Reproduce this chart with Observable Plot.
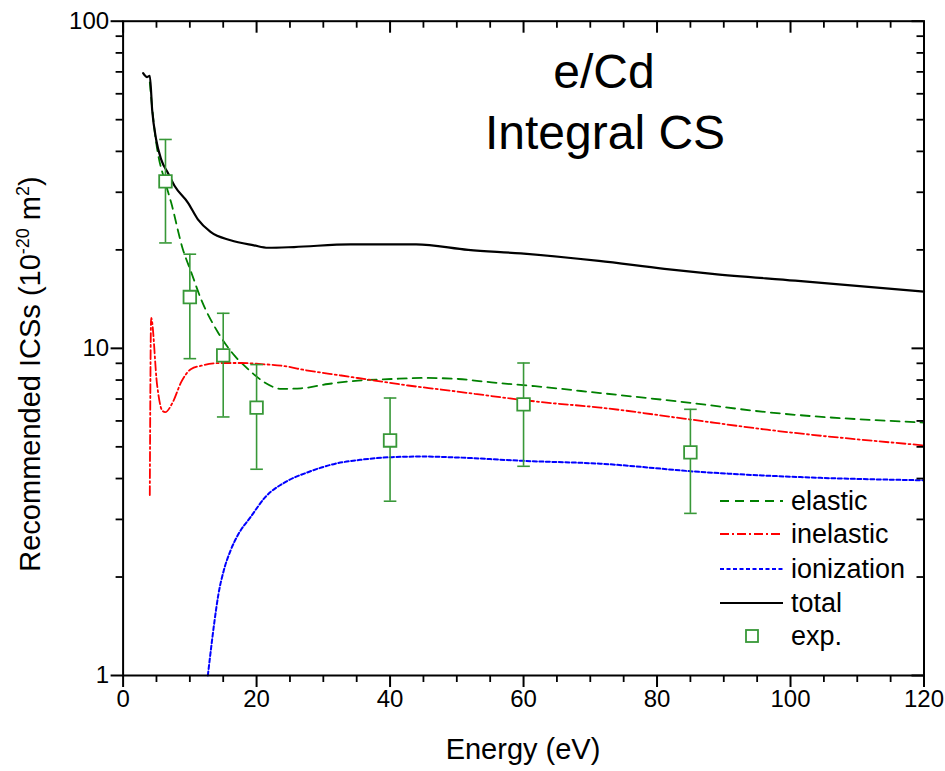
<!DOCTYPE html>
<html><head><meta charset="utf-8">
<script src="https://cdn.jsdelivr.net/npm/d3@7"></script>
<script src="https://cdn.jsdelivr.net/npm/@observablehq/plot@0.6"></script>
<style>html,body{margin:0;padding:0;background:#fff;} #chart svg{display:block;overflow:visible}</style>
</head><body><div id="chart"></div>
<script>
// ---- data ----
const elasticE = [4.0, 4.7, 5.2, 6.2, 7.2, 8.95, 10.2, 11.7, 14.2, 16.7, 18.7, 21.2, 23.7, 26.7, 30.7, 35.2, 40.2, 45.2, 50.2, 55.2, 61.7, 71.5, 84, 96.5, 120];
const elasticV = [65, 46.6, 39.6, 32.8, 27.9, 20.1, 17.1, 14.1, 11.2, 9.5, 8.65, 7.87, 7.52, 7.55, 7.78, 7.97, 8.06, 8.12, 8.06, 7.87, 7.66, 7.3, 6.85, 6.38, 5.93];

const inelasticE = [4.0, 4.2, 5.1, 5.85, 6.3, 7.45, 8.7, 10.2, 11.7, 14.7, 17.7, 20.7, 23.7, 27.7, 32.7, 37.7, 42.7, 47.7, 52.7, 57.7, 62.7, 71.5, 84, 96.5, 120];
const inelasticV = [3.56, 12.4, 7.71, 6.46, 6.38, 6.85, 7.88, 8.65, 8.85, 9.02, 9.02, 8.95, 8.85, 8.55, 8.26, 7.97, 7.7, 7.48, 7.26, 7.04, 6.85, 6.59, 6.1, 5.64, 5.05];

const ionizationE = [12.7, 13.2, 13.7, 14.3, 15.1, 16.1, 17.3, 19.1, 21.3, 24.3, 27.8, 31.8, 35.8, 40.3, 45, 50, 60, 71.5, 86.5, 101.5, 120];
const ionizationV = [1.0, 1.22, 1.47, 1.78, 2.1, 2.41, 2.71, 3.05, 3.51, 3.9, 4.19, 4.44, 4.57, 4.65, 4.67, 4.64, 4.53, 4.44, 4.19, 4.04, 3.95];

const totalE = [3.0, 3.6, 4.0, 4.36, 4.95, 5.7, 6.7, 7.7, 9.7, 11.2, 13.1, 16.1, 19.6, 21.7, 25.6, 34.1, 43.9, 51.7, 59.6, 71.3, 81.1, 88.3, 100.7, 120];
const totalV = [69.4, 67.5, 68.1, 53.4, 43.5, 37.8, 34.4, 31.4, 27.9, 24.8, 22.7, 21.4, 20.65, 20.3, 20.4, 20.8, 20.8, 20.0, 19.5, 18.5, 17.5, 16.9, 16.1, 14.9];

const expE  = [6.35, 10.0, 15.0, 20.0, 40.0, 60.0, 85.0];
const expV  = [32.4, 14.35, 9.52, 6.59, 5.23, 6.74, 4.81];
const expLo = [21.0, 9.3, 6.17, 4.27, 3.41, 4.36, 3.13];
const expHi = [43.5, 19.4, 12.8, 8.92, 7.05, 9.02, 6.51];

const xMajor = [0, 20, 40, 60, 80, 100, 120];
const xMinor = [5, 10, 15, 25, 30, 35, 45, 50, 55, 65, 70, 75, 85, 90, 95, 105, 110, 115];
const yMajor = [1, 10, 100];
const yMinor = [2, 3, 4, 5, 6, 7, 8, 9, 20, 30, 40, 50, 60, 70, 80, 90];

const legendLabels = ["elastic", "inelastic", "ionization", "total", "exp."];

// ---- tables ----
const toRows = (E, V) => E.map((e, i) => ({E: e, v: V[i]}));
const elastic = toRows(elasticE, elasticV);
const inelastic = toRows(inelasticE, inelasticV);
const ionization = toRows(ionizationE, ionizationV);
const total = toRows(totalE, totalV);
const exp = expE.map((e, i) => ({E: e, v: expV[i], lo: expLo[i], hi: expHi[i]}));

const GREEN = "#008000", RED = "#ff0000", BLUE = "#0000ff", EXPC = "#389838";
const TICKC = "black";
const styles = {
  elastic:   {stroke: GREEN, dash: "9,6", w: 1.8},
  inelastic: {stroke: RED, dash: "9,3,2,3", w: 1.8},
  ionization:{stroke: BLUE, dash: "4,2.5", w: 2},
  total:     {stroke: "black", dash: null, w: 2.2}
};

const capSymbol = {draw(ctx, size) { const r = Math.sqrt(size / Math.PI); ctx.moveTo(-r, 0); ctx.lineTo(r, 0); }};
const FONT = "'Liberation Sans', Arial, Helvetica, sans-serif";

const W = 945, H = 771, ML = 122.6, MR = 21.5, MT = 20.7, MB = 96;
const PW = W - ML - MR, PH = H - MT - MB;
const MAJ = 12, MIN = 7;

const plot = Plot.plot({
  width: W, height: H,
  marginLeft: ML, marginRight: MR, marginTop: MT, marginBottom: MB,
  x: {domain: [0, 120]},
  y: {type: "log", domain: [1, 100]},
  style: {fontFamily: FONT},
  marks: [
    Plot.line(elastic, {x: "E", y: "v", stroke: styles.elastic.stroke, strokeDasharray: styles.elastic.dash, strokeWidth: styles.elastic.w, curve: "monotone-x"}),
    Plot.line(inelastic, {x: "E", y: "v", stroke: styles.inelastic.stroke, strokeDasharray: styles.inelastic.dash, strokeWidth: styles.inelastic.w, curve: "monotone-x"}),
    Plot.line(ionization, {x: "E", y: "v", stroke: styles.ionization.stroke, strokeDasharray: styles.ionization.dash, strokeWidth: styles.ionization.w, curve: "monotone-x"}),
    Plot.line(total, {x: "E", y: "v", stroke: styles.total.stroke, strokeWidth: styles.total.w, curve: "monotone-x"}),
    Plot.ruleX(exp, {x: "E", y1: "lo", y2: "hi", stroke: EXPC, strokeWidth: 1.6}),
    Plot.dot(exp, {x: "E", y: "hi", symbol: capSymbol, r: 6.3, stroke: EXPC, strokeWidth: 1.6}),
    Plot.dot(exp, {x: "E", y: "lo", symbol: capSymbol, r: 6.3, stroke: EXPC, strokeWidth: 1.6}),
    Plot.dot(exp, {x: "E", y: "v", symbol: "square", r: 7.1, fill: "white", stroke: EXPC, strokeWidth: 1.8}),
    Plot.frame({stroke: "black", strokeWidth: 2}),
    Plot.axisX({anchor: "bottom", ticks: xMajor, tickSize: MAJ, tickPadding: 2, fontSize: 24, stroke: TICKC, strokeWidth: 2, label: null}),
    Plot.axisX({anchor: "bottom", ticks: xMinor, tickSize: MIN, tickFormat: () => "", stroke: TICKC, strokeWidth: 1.8, label: null}),
    Plot.axisY({anchor: "left", ticks: yMajor, tickSize: MAJ, tickPadding: 2, fontSize: 24, stroke: TICKC, strokeWidth: 2, tickFormat: d => String(d), label: null}),
    Plot.axisY({anchor: "left", ticks: yMinor, tickSize: MIN, tickFormat: () => "", stroke: TICKC, strokeWidth: 1.8, label: null}),
    Plot.tickX(xMajor, {x: d => d, insetBottom: PH - MAJ, stroke: TICKC, strokeWidth: 2}),
    Plot.tickX(xMinor, {x: d => d, insetBottom: PH - MIN, stroke: TICKC, strokeWidth: 1.8}),
    Plot.tickY(yMajor, {y: d => d, insetLeft: PW - MAJ, stroke: TICKC, strokeWidth: 2}),
    Plot.tickY(yMinor, {y: d => d, insetLeft: PW - MIN, stroke: TICKC, strokeWidth: 1.8})
  ]
});
document.getElementById("chart").appendChild(plot);

// ---- titles, axis labels and legend ----
const svg = d3.select(plot);
const g = svg.append("g").attr("font-family", FONT).attr("fill", "black").attr("text-anchor", "start");

g.append("text").attr("x", 604).attr("y", 88).attr("text-anchor", "middle").attr("font-size", 48).text("e/Cd");
g.append("text").attr("x", 605).attr("y", 149).attr("text-anchor", "middle").attr("font-size", 48).text("Integral CS");

g.append("text").attr("x", 523).attr("y", 759).attr("text-anchor", "middle").attr("font-size", 29).text("Energy (eV)");

const yl = g.append("text").attr("transform", "translate(40,374) rotate(-90)").attr("text-anchor", "middle").attr("font-size", 29);
yl.append("tspan").text("Recommended ICSs (10");
yl.append("tspan").attr("dy", -11).attr("font-size", 18).text("-20");
yl.append("tspan").attr("dy", 11).text(" m");
yl.append("tspan").attr("dy", -11).attr("font-size", 18).text("2");
yl.append("tspan").attr("dy", 11).text(")");

const rowsY = [501, 534, 569, 603, 636];
const legKeys = ["elastic", "inelastic", "ionization", "total"];
legKeys.forEach((k, i) => {
  const s = styles[k];
  const ln = g.append("line").attr("x1", 720).attr("x2", 783).attr("y1", rowsY[i]).attr("y2", rowsY[i])
    .attr("stroke", s.stroke).attr("stroke-width", s.w);
  if (s.dash) ln.attr("stroke-dasharray", s.dash);
});
g.append("rect").attr("x", 746).attr("y", rowsY[4] - 6).attr("width", 12).attr("height", 12)
  .attr("fill", "white").attr("stroke", EXPC).attr("stroke-width", 1.8);
legendLabels.forEach((t, i) => {
  g.append("text").attr("x", 791).attr("y", rowsY[i] + 9).attr("text-anchor", "start").attr("font-size", 27).text(t);
});
</script>
</body></html>
